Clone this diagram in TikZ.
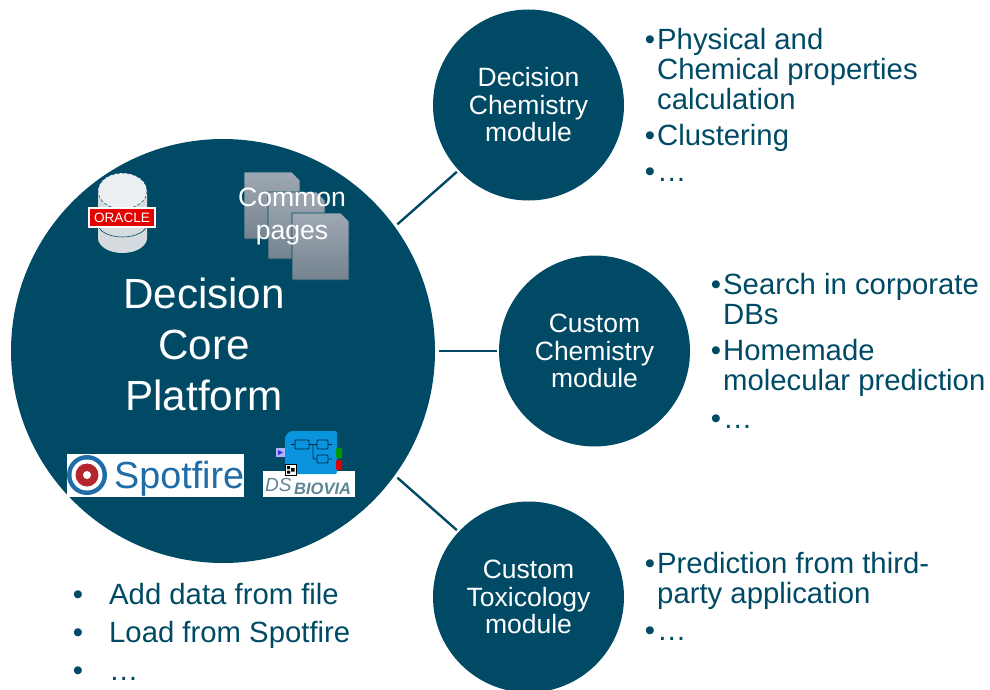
\documentclass[tikz,border=0pt]{standalone}
\usepackage{fontspec}
\setmainfont{Liberation Sans}
\definecolor{deep}{HTML}{004A65}
\definecolor{pagetop}{HTML}{9FA9B3}
\definecolor{pagebot}{HTML}{74838F}
\definecolor{drum}{HTML}{D5DBDF}
\definecolor{spotblue}{HTML}{1F6CA6}
\definecolor{spotred}{HTML}{B5272E}
\definecolor{blockblue}{HTML}{0A94DE}
\definecolor{bioviagrey}{HTML}{5E8496}
\begin{document}
\begin{tikzpicture}[
        x = 1pt,
        y = -1pt,
        disc/.style = {circle, fill = deep, text = white, align = center, inner sep = 0pt, outer sep = 2.5pt},
        small/.style = {disc, minimum size = 191pt, font = \fontsize{26.5}{27.5}\selectfont},
        link/.style = {deep, line width = 2.4pt},
        item/.style = {anchor = west, align = left, text = deep, inner sep = 0pt, font = \fontsize{29.3}{30}\selectfont},
        leaf/.style = {draw = deep, line width = 0.8pt, top color = pagetop, bottom color = pagebot},
        flow/.style = {draw = black!75!blockblue, line width = 0.8pt, rounded corners = 1pt}
      ]
      \useasboundingbox (0, 0) rectangle (990, 690);
      % nodes
      \node[disc, minimum size = 424pt, outer sep = 3.5pt] (core) at (223, 351) {};
      \node[small] (chem)   at (528.5, 105) {Decision\\Chemistry\\module};
      \node[small] (custom) at (594.5, 351) {Custom\\Chemistry\\module};
      \node[small] (tox)    at (528.5, 597) {Custom\\Toxicology\\module};
      % connectors
      \draw[link] (core.36)  -- (chem.223);
      \draw[link] (core.0)   -- (custom.180);
      \draw[link] (core.-36) -- (tox.137);
      % database
      \fill[drum] (98, 191) -- (98, 238) arc[start angle = 180, end angle = 0, x radius = 24.5, y radius = 15] -- (147, 191) -- cycle;
      \draw[deep, line width = 0.6pt] (98, 224) arc[start angle = 180, end angle = 0, x radius = 24.5, y radius = 13];
      \draw[fill = drum!45!white, draw = deep, line width = 0.5pt, densely dashed] (122.5, 191) ellipse[x radius = 24.5, y radius = 18];
      \node[draw = white, fill = red!90!black, text = white, line width = 2pt, minimum width = 66pt, minimum height = 19pt, inner sep = 0pt, font = \fontsize{13.6}{14}\selectfont] (oracle) at (122, 217.5) {ORACLE};
      % pages
      \draw[leaf] (244, 172) -- (292, 172) -- (300, 180) -- (300, 239) -- (244, 239) -- cycle;
      \draw[leaf] (268, 192) -- (317, 192) -- (325, 200) -- (325, 259) -- (268, 259) -- cycle;
      \draw[leaf] (292, 213) -- (341, 213) -- (349, 221) -- (349, 280) -- (292, 280) -- cycle;
      \node[text = white, align = center, font = \fontsize{26.6}{33}\selectfont] (pages) at (292, 216.5) {Common\\pages};
      % title
      \node[text = white, align = center, font = \fontsize{42.2}{51}\selectfont] (title) at (204, 344) {Decision\\Core\\Platform};
      % spotfire
      \fill[white] (67, 454) rectangle (244, 497);
      \fill[spotblue] (87, 475) circle[radius = 20];
      \fill[white] (87, 475) circle[radius = 15.5];
      \fill[spotred] (87, 475) circle[radius = 11.5];
      \fill[white] (87, 475) circle[radius = 4];
      \node[anchor = west, inner sep = 0pt, text = spotblue, font = \fontsize{37.7}{38}\selectfont] (spotfire) at (114, 479) {Spotfire};
      % biovia
      \fill[white] (263, 471) rectangle (355, 497);
      \fill[blockblue, rounded corners = 2pt] (285, 474) -- (285, 436) -- (290, 431) -- (337, 431) -- (337, 474) -- cycle;
      \fill[green!60!black, rounded corners = 1pt] (336, 448) rectangle (342, 458);
      \fill[red!85!black, rounded corners = 1pt] (336, 460) rectangle (342, 470);
      \fill[blue!30!white] (276, 448) rectangle (285, 457);
      \fill[blue!60!gray] (278, 450) -- (283, 452.5) -- (278, 455) -- cycle;
      \draw[flow] (295, 440) rectangle (309, 449);
      \draw[flow] (317, 440) rectangle (328, 449);
      \draw[flow] (317, 455) rectangle (328, 463);
      \draw[flow] (291, 444.5) -- (295, 444.5) (309, 444.5) -- (317, 444.5) (328, 444.5) -- (332, 444.5) (313, 444.5) -- (313, 459) -- (317, 459) (328, 459) -- (332, 459);
      \draw[black, fill = white, line width = 0.6pt] (285, 464) rectangle (296, 475);
      \fill[black] (287, 466) rectangle (290, 469) (287, 470.5) rectangle (290, 473.5) (291, 468) rectangle (294.5, 471.5);
      \node[anchor = west, inner sep = 0pt, text = bioviagrey, font = \fontsize{19}{19}\itshape\selectfont] (ds) at (265, 485) {DS};
      \node[anchor = west, inner sep = 0pt, text = bioviagrey, font = \fontsize{16.5}{17}\bfseries\itshape\selectfont] (biovia) at (294, 489) {BIOVIA};
      % first list
      \node[item] (phys)   at (657, 69)  {\llap{•\kern2pt}Physical and\\Chemical properties\\calculation};
      \node[item] (clust)  at (657, 138) {\llap{•\kern2pt}Clustering};
      \node[item] (more1)  at (657, 175) {\llap{•\kern2pt}…};
      % second list
      \node[item] (search) at (723, 299) {\llap{•\kern2pt}Search in corporate\\DBs};
      \node[item] (home)   at (723, 368) {\llap{•\kern2pt}Homemade\\molecular prediction};
      \node[item] (more2)  at (723, 422) {\llap{•\kern2pt}…};
      % third list
      \node[item] (pred)   at (657, 580.5) {\llap{•\kern2pt}Prediction from third-\\party application};
      \node[item] (more3)  at (657, 634) {\llap{•\kern2pt}…};
      % bottom list
      \node[item] (add)    at (109, 594) {\llap{•\kern26pt}Add data from file};
      \node[item] (load)   at (109, 635) {\llap{•\kern26pt}Load from Spotfire};
      \node[item] (more4)  at (109, 674) {\llap{•\kern26pt}…};
    \end{tikzpicture}
\end{document}
